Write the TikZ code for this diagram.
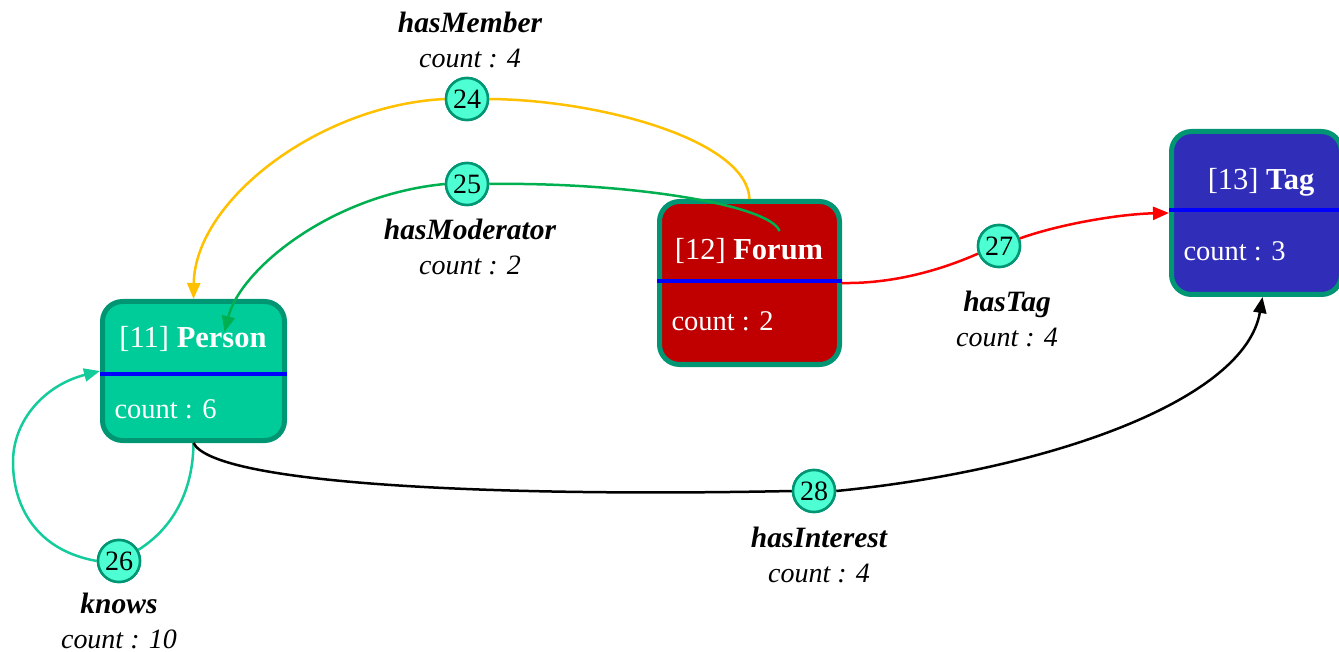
\documentclass[tikz,border=0pt]{standalone}
\usepackage{fontspec}
\setmainfont{Liberation Serif}
\usetikzlibrary{arrows.meta,calc}

\definecolor{personfill}{RGB}{0,204,153}
\definecolor{forumfill}{RGB}{192,0,0}
\definecolor{tagfill}{RGB}{48,46,184}
\definecolor{boxline}{RGB}{0,150,115}
\definecolor{dotfill}{RGB}{77,255,210}
\definecolor{memberc}{RGB}{255,192,0}
\definecolor{moderatorc}{RGB}{0,176,80}
\definecolor{knowsc}{RGB}{20,204,155}

\tikzset{
  entity/.style={draw=boxline, line width=5pt, rounded corners=20pt, inner sep=0pt},
  divider/.style={draw=blue, line width=3.5pt},
  title/.style={text=white, font=\fontsize{30.5}{36}\selectfont},
  countline/.style={text=white, anchor=west, font=\fontsize{28.5}{34}\selectfont},
  edgedot/.style={circle, draw=boxline, fill=dotfill, line width=2.5pt,
    minimum size=42pt, inner sep=0pt, font=\fontsize{28}{30}\selectfont},
  edgelabel/.style={align=center, font=\fontsize{28}{35}\selectfont\itshape},
  link/.style={line width=2.5pt},
  headed/.style={-{Triangle[length=16pt,width=13pt]}}
}
\newcommand{\relname}[1]{{\fontsize{29.5}{35}\selectfont\bfseries #1}}

\begin{document}
\begin{tikzpicture}[x=1pt,y=-1pt]

  \useasboundingbox (0,0) rectangle (1339,652);

  % the three entity boxes
  \node[entity, fill=personfill, minimum width=182pt, minimum height=139pt] (person) at (193.5,371) {};
  \node[entity, fill=forumfill, minimum width=180pt, minimum height=163pt] (forum) at (749.5,283) {};
  \node[entity, fill=tagfill, minimum width=170pt, minimum height=163pt] (tag) at (1256.5,213) {};

  \draw[divider] ([yshift=-3pt]person.west) -- ([yshift=-3pt]person.east);
  \draw[divider] ([yshift=2pt]forum.west) -- ([yshift=2pt]forum.east);
  \draw[divider] ([yshift=3pt]tag.west) -- ([yshift=3pt]tag.east);

  \node[title] (person title) at (193,339) {[11] \textbf{Person}};
  \node[countline] (person count) at (111,409) {count : 6};
  \node[title] (forum title) at (749,251) {[12] \textbf{Forum}};
  \node[countline] (forum count) at (668,321) {count : 2};
  \node[title] (tag title) at (1261,182) {[13] \textbf{Tag}};
  \node[countline] (tag count) at (1180,251) {count : 3};

  % edge dots
  \node[edgedot] (e24) at (467,99) {24};
  \node[edgedot] (e25) at (467,184) {25};
  \node[edgedot] (e26) at (119,561) {26};
  \node[edgedot] (e27) at (999,246) {27};
  \node[edgedot] (e28) at (814,491) {28};

  \coordinate (moderator start) at ($(forum.center)+(30,-52)$);
  \coordinate (moderator end) at ($(person.center)+(31,-39)$);

  % hasMember
  \draw[link, memberc] (forum.north) .. controls (747,140) and (600,100) .. (e24.east);
  \draw[link, memberc, headed] (e24.west) .. controls (320,105) and (195,200) .. (person.north);

  % hasModerator
  \draw[link, moderatorc] (moderator start) .. controls (770,205) and (630,182) .. (e25.east);
  \draw[link, moderatorc, headed] (e25.west) .. controls (330,195) and (240,270) .. (moderator end);

  % knows
  \draw[link, knowsc] (person.south) .. controls (193,495) and (170,530) .. (e26.30);
  \draw[link, knowsc, headed] (e26.west) .. controls (35,550) and (13,505) .. (13,462)
    .. controls (13,420) and (45,385) .. (person.west);

  % hasTag
  \draw[link, red] (forum.east) .. controls (900,284) and (950,266) .. (e27.200);
  \draw[link, red, headed] (e27.20) .. controls (1060,224) and (1120,214) .. (tag.west);

  % hasInterest
  \draw[link, black] (person.south) .. controls (215,485) and (500,497) .. (e28.west);
  \draw[link, black, headed] (e28.east) .. controls (1050,470) and (1245,400) .. ([xshift=6pt]tag.south);

  \node[edgedot] at (e24) {24};
  \node[edgedot] at (e25) {25};
  \node[edgedot] at (e26) {26};
  \node[edgedot] at (e27) {27};
  \node[edgedot] at (e28) {28};

  % edge labels
  \node[edgelabel] (member label) at (470,40) {\relname{hasMember}\\count : 4};
  \node[edgelabel] (moderator label) at (470,247) {\relname{hasModerator}\\count : 2};
  \node[edgelabel] (knows label) at (119,621) {\relname{knows}\\count : 10};
  \node[edgelabel] (tag label) at (1007,319) {\relname{hasTag}\\count : 4};
  \node[edgelabel] (interest label) at (819,555) {\relname{hasInterest}\\count : 4};

\end{tikzpicture}
\end{document}
